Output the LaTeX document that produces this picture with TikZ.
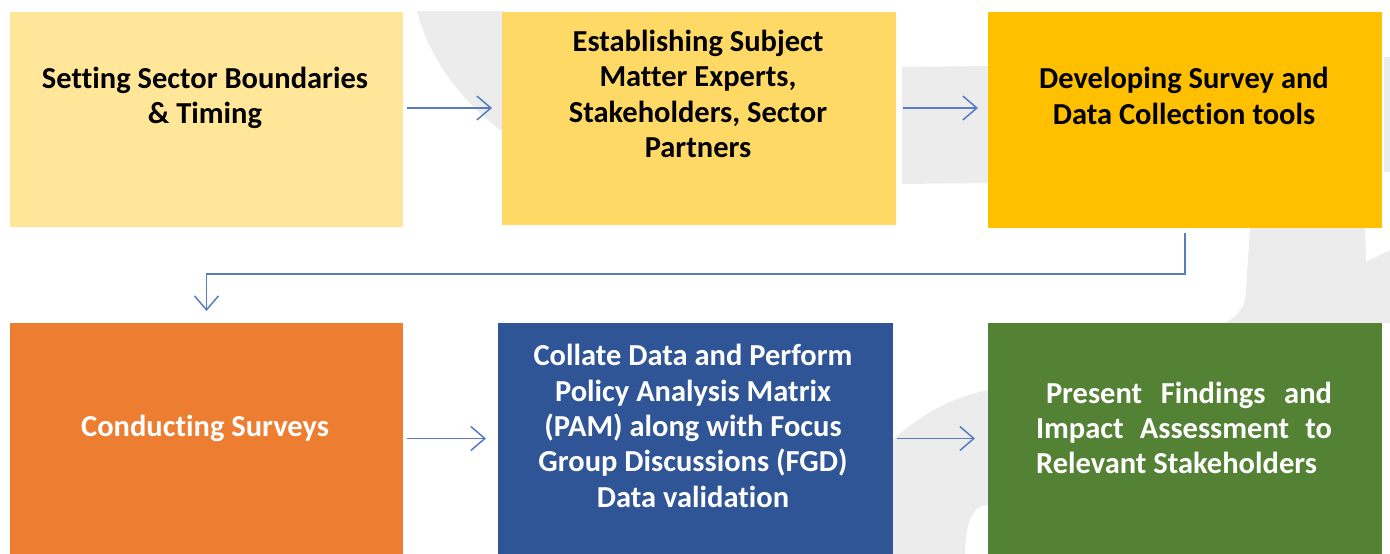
\documentclass[tikz,border=0pt]{standalone}
\usepackage{fontspec}
\setmainfont{Carlito}[Ligatures={NoCommon}]
\usetikzlibrary{arrows.meta}
\definecolor{stepA}{HTML}{FFE699}
\definecolor{stepB}{HTML}{FFD966}
\definecolor{stepC}{HTML}{FFC000}
\definecolor{stepD}{HTML}{ED7D31}
\definecolor{stepE}{HTML}{2F5597}
\definecolor{stepF}{HTML}{548235}
\definecolor{flowline}{RGB}{88,124,196}
\definecolor{mark}{RGB}{236,236,236}
\begin{document}
\begin{tikzpicture}[x=1pt,y=-1pt,
  stepbox/.style={draw=none,inner sep=0pt,outer sep=0pt,anchor=north west},
  steptext/.style={inner sep=0pt,align=center,font=\fontsize{30.5}{35.3}\selectfont\bfseries},
  darktext/.style={steptext,text=black},
  lighttext/.style={steptext,text=white},
  flow/.style={draw=flowline,line width=1.5pt,-{Straight Barb[length=14pt,width=24pt,line width=1.5pt]}},
  watermark/.style={fill=mark,draw=none}]
\useasboundingbox (0,0) rectangle (1390,554);
\fill[white] (0,0) rectangle (1390,554);

% faint background emblem
\begin{scope}
  \clip (0,11) rectangle (1390,554);
  \fill[watermark] (417,11) .. controls (428,55) and (458,98) .. (500,130) -- (504,130) -- (504,11) -- cycle;
  \fill[watermark] (902,67) -- (988,66) -- (988,183) -- (902,184) -- cycle;
  \fill[watermark] (1384,57) rectangle (1390,172);
  \fill[watermark] (1250,228) -- (1365,228) -- (1366,262) -- (1390,250) -- (1390,323)
        -- (1225,323) .. controls (1240,315) and (1246,305) .. (1246,290) -- cycle;
  \fill[watermark] (893,440) .. controls (920,415) and (950,398) .. (988,390) -- (988,505)
        .. controls (970,505) and (965,530) .. (965,554) -- (893,554) -- cycle;
\end{scope}

% process steps
\node[stepbox,fill=stepA,minimum width=393pt,minimum height=215pt] (b1) at (10,12) {};
\node[stepbox,fill=stepB,minimum width=394pt,minimum height=213pt] (b2) at (502,12) {};
\node[stepbox,fill=stepC,minimum width=394pt,minimum height=216pt] (b3) at (988,12) {};
\node[stepbox,fill=stepD,minimum width=393pt,minimum height=231pt] (b4) at (10,323) {};
\node[stepbox,fill=stepE,minimum width=395pt,minimum height=231pt] (b5) at (498,323) {};
\node[stepbox,fill=stepF,minimum width=394pt,minimum height=231pt] (b6) at (988,323) {};

\node[darktext] (t1) at (205,98) {Setting Sector Boundaries\\ \& Timing};
\node[darktext] (t2) at (698,94) {Establishing Subject\\ Matter Experts,\\ Stakeholders, Sector\\ Partners};
\node[darktext] (t3) at (1184,96) {Developing Survey and\\ Data Collection tools};
\node[lighttext] (t4) at (205,428) {Conducting Surveys};
\node[lighttext] (t5) at (693,426) {Collate Data and Perform\\ Policy Analysis Matrix\\ (PAM) along with Focus\\ Group Discussions (FGD)\\ Data validation};
\node[lighttext,align=left] (t6) at (1184,428) {\hspace*{10pt}\makebox[286pt][s]{Present Findings and}\\ \makebox[296pt][s]{Impact Assessment to}\\ Relevant Stakeholders};

% connectors
\coordinate (turn) at (700,274);
\draw[flow,shorten <=4pt,shorten >=10pt] ([yshift=11.5pt]b1.east) -- ([yshift=10.5pt]b2.west);
\draw[flow,shorten <=7pt,shorten >=10pt] ([yshift=10.5pt]b2.east) -- ([yshift=12pt]b3.west);
\draw[flow,shorten <=5pt,shorten >=12pt] (b3.south) |- (turn) -| (b4.north);
\draw[flow,shorten <=4pt,shorten >=12pt] (b4.east) -- (b5.west);
\draw[flow,shorten <=4pt,shorten >=13pt] (b5.east) -- (b6.west);
\end{tikzpicture}
\end{document}
